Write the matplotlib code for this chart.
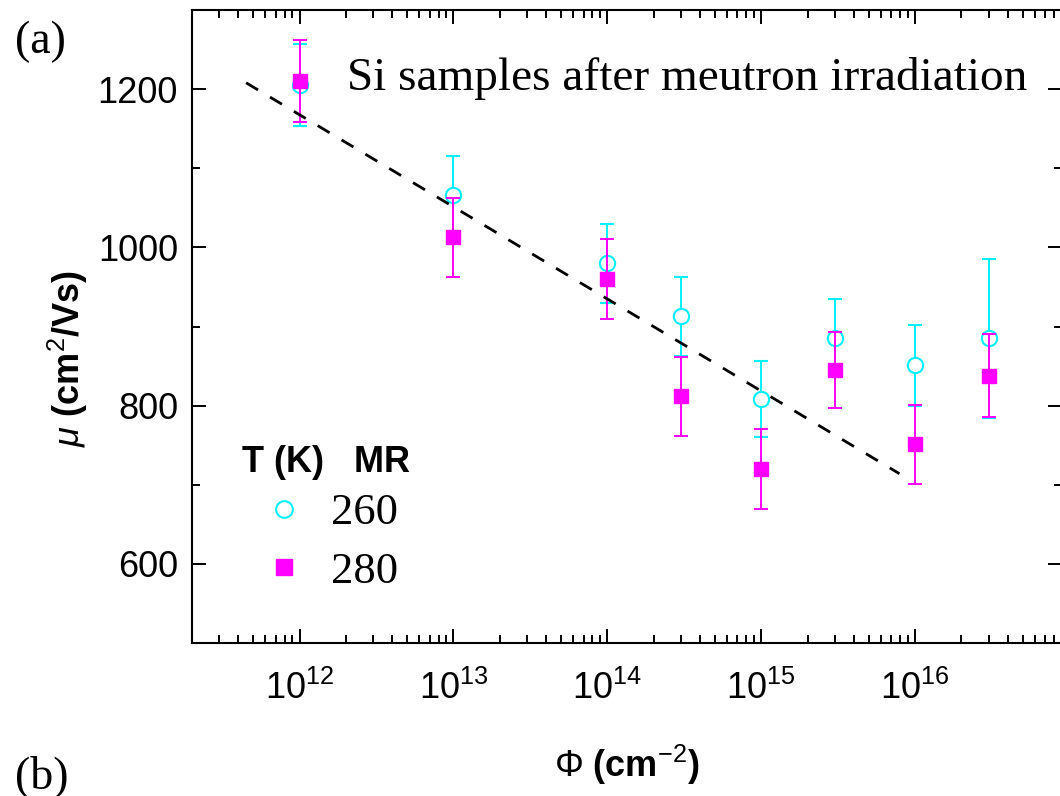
import matplotlib
matplotlib.use('agg')
import matplotlib.pyplot as plt
from matplotlib.lines import Line2D
from matplotlib.ticker import LogLocator, MultipleLocator, NullFormatter

# fluence values (cm^-2)
fluence = [1e12, 1e13, 1e14, 3e14, 1e15, 3e15, 1e16, 3e16]
# mobility at 260 K and 280 K (cm^2/Vs)
mu_260 = [1205, 1066, 980, 913, 808, 886, 851, 885]
err_260 = [52, 50, 50, 50, 48, 49, 51, 100]
mu_280 = [1210, 1013, 960, 812, 720, 845, 751, 838]
err_280 = [52, 50, 50, 50, 50, 48, 50, 52]
# guide line
guide_x = [4.5e11, 7.9e15]
guide_y = [1208, 714]

plt.rcParams['font.family'] = ['Liberation Sans', 'DejaVu Sans']
plt.rcParams['mathtext.fontset'] = 'custom'
plt.rcParams['mathtext.rm'] = 'Liberation Sans'
plt.rcParams['mathtext.it'] = 'Liberation Sans:italic'
plt.rcParams['mathtext.bf'] = 'Liberation Sans:bold'

fig = plt.figure(figsize=(10.6, 7.96), dpi=100)
ax = fig.add_axes([0.1811, 0.1922, 0.8208, 0.7952])

cyan = '#00f0ff'
magenta = '#ff00ff'

ax.errorbar(fluence, mu_260, yerr=err_260, fmt='o', ms=11, mfc='white', mec=cyan,
            mew=1.5, ecolor=cyan, elinewidth=1.4, capsize=5, capthick=1.4, zorder=3)
ax.errorbar(fluence, mu_280, yerr=err_280, fmt='s', ms=10.5, mfc=magenta, mec=magenta,
            ecolor=magenta, elinewidth=1.4, capsize=5, capthick=1.4, zorder=4)
ax.plot(guide_x, guide_y, '--', color='black', lw=2, dashes=(5, 5), zorder=5)

ax.set_xscale('log')
ax.set_xlim(2.0e11, 9.0e16)
ax.set_ylim(500, 1300)
ax.yaxis.set_major_locator(MultipleLocator(200))
ax.yaxis.set_minor_locator(MultipleLocator(100))
ax.xaxis.set_major_locator(LogLocator(base=10, numticks=20))
ax.xaxis.set_minor_locator(LogLocator(base=10, subs=range(2, 10), numticks=20))
ax.xaxis.set_minor_formatter(NullFormatter())

ax.tick_params(which='both', direction='in', top=True, right=True, width=1.4)
ax.tick_params(which='major', length=10, labelsize=26)
ax.tick_params(which='minor', length=6)
ax.tick_params(axis='y', which='major', pad=10)
ax.tick_params(axis='x', which='major', pad=20)
for sp in ax.spines.values():
    sp.set_linewidth(1.5)

ax.set_xlabel(r'$\Phi$ (cm$^{-2}$)', fontsize=26, fontweight='bold', labelpad=26)
ax.set_ylabel(r'$\mu$ (cm$^{2}$/Vs)', fontsize=26, fontweight='bold')
ax.yaxis.set_label_coords(-0.117, 0.45)

ax.text(0.178, 0.874, 'Si samples after meutron irradiation', transform=ax.transAxes,
        family='Liberation Serif', fontsize=34, va='baseline', ha='left')

ax.text(0.057, 0.285, 'T (K)   MR', transform=ax.transAxes, fontsize=26,
        fontweight='bold', va='center', ha='left')
handles = [Line2D([], [], ls='none', marker='o', ms=12, mfc='white', mec=cyan, mew=1.5),
           Line2D([], [], ls='none', marker='s', ms=11, mfc=magenta, mec=magenta)]
leg = ax.legend(handles, ['260', '280'], loc='upper left', bbox_to_anchor=(0.055, 0.237),
                frameon=False, prop={'family': 'Liberation Serif', 'size': 32},
                handlelength=2.0, handletextpad=0.05, labelspacing=0.42,
                borderpad=0, borderaxespad=0)

fig.text(0.014, 0.948, '(a)', family='Liberation Serif', fontsize=33, va='center')
fig.text(0.014, 0.025, '(b)', family='Liberation Serif', fontsize=33, va='center')

fig.savefig('out.png', dpi=100)
